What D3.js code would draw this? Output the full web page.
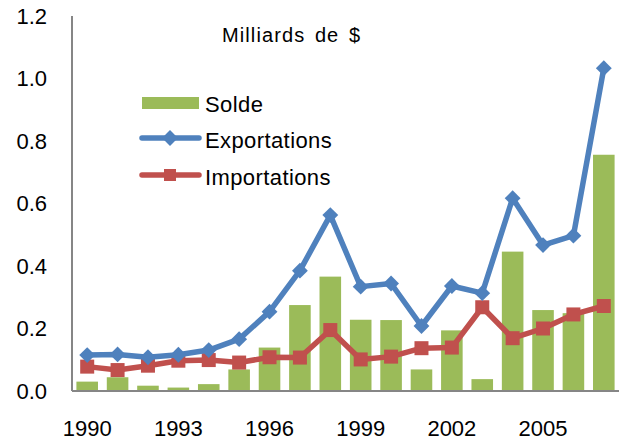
<!DOCTYPE html>
<meta charset="utf-8">
<style>
body { margin: 0; background: #fff; }
svg { font-family: "Liberation Sans", Arial, sans-serif; }
.axis path { stroke: #868686; stroke-width: 2px; }
.axis line { display: none; }
.axis text { font-size: 22px; fill: #000; }
</style>
<svg width="625" height="445"></svg>
<script src="https://d3js.org/d3.v7.min.js"></script>
<script>

var years = ["1990","1991","1992","1993","1994","1995","1996","1997","1998","1999",
             "2000","2001","2002","2003","2004","2005","2006","2007"];
var solde = [0.03, 0.044, 0.017, 0.011, 0.022, 0.069, 0.139, 0.275, 0.366, 0.228,
             0.227, 0.069, 0.194, 0.038, 0.446, 0.259, 0.249, 0.756];
var exportations = [0.115, 0.117, 0.108, 0.116, 0.131, 0.166, 0.254, 0.385, 0.563, 0.334,
                    0.344, 0.208, 0.336, 0.313, 0.617, 0.467, 0.497, 1.033];
var importations = [0.078, 0.067, 0.081, 0.097, 0.099, 0.091, 0.108, 0.107, 0.195, 0.101,
                    0.11, 0.137, 0.139, 0.268, 0.169, 0.2, 0.245, 0.272];
var yTicks = [0, 0.2, 0.4, 0.6, 0.8, 1.0, 1.2];
var xLabels = ["1990","1993","1996","1999","2002","2005"];

var svg = d3.select("svg"),
    margin = {top: 16, right: 6, bottom: 54, left: 72},
    width = +svg.attr("width") - margin.left - margin.right,
    height = +svg.attr("height") - margin.top - margin.bottom;

var x = d3.scaleBand().domain(years).range([0, width]).paddingInner(0.29).paddingOuter(0.145);
var y = d3.scaleLinear().domain([0, 1.2]).range([height, 0]);

var g = svg.append("g")
    .attr("transform", "translate(" + margin.left + "," + margin.top + ")");

// bars
g.append("g").selectAll("rect")
    .data(solde)
    .enter().append("rect")
    .attr("x", function(d, i) { return x(years[i]); })
    .attr("y", function(d) { return y(d); })
    .attr("width", x.bandwidth())
    .attr("height", function(d) { return y(0) - y(d); })
    .attr("fill", "#9bbb59");

// axes
g.append("g")
    .attr("class", "axis axis--y")
    .call(d3.axisLeft(y).tickValues(yTicks).tickSize(0).tickPadding(25)
        .tickFormat(d3.format(".1f")))
    .call(function(a) { a.select(".domain").attr("d", "M0," + y(1.2) + "V" + y(0)); });

g.append("g")
    .attr("class", "axis axis--x")
    .attr("transform", "translate(0," + height + ")")
    .call(d3.axisBottom(x).tickValues(xLabels).tickSize(0).tickPadding(29))
    .call(function(a) { a.select(".domain").attr("d", "M0,0H" + width); });

var cx = function(d, i) { return x(years[i]) + x.bandwidth() / 2; };

var line = d3.line()
    .x(cx)
    .y(function(d) { return y(d); });

// imports line
g.append("path")
    .datum(importations)
    .attr("fill", "none")
    .attr("stroke", "#c0504d")
    .attr("stroke-width", 5.5)
    .attr("stroke-linejoin", "round")
    .attr("d", line);

g.append("g").selectAll("rect")
    .data(importations)
    .enter().append("rect")
    .attr("x", function(d, i) { return cx(d, i) - 7; })
    .attr("y", function(d) { return y(d) - 7; })
    .attr("width", 14)
    .attr("height", 14)
    .attr("fill", "#c0504d");

// exports line
g.append("path")
    .datum(exportations)
    .attr("fill", "none")
    .attr("stroke", "#4f81bd")
    .attr("stroke-width", 5.5)
    .attr("stroke-linejoin", "round")
    .attr("d", line);

var diamond = d3.symbol().type(d3.symbolDiamond2).size(160);
g.append("g").selectAll("path")
    .data(exportations)
    .enter().append("path")
    .attr("transform", function(d, i) { return "translate(" + cx(d, i) + "," + y(d) + ")"; })
    .attr("d", diamond)
    .attr("fill", "#4f81bd");

// title
svg.append("text")
    .attr("x", 222)
    .attr("y", 42)
    .attr("font-size", 20)
    .attr("letter-spacing", 1.1)
    .attr("word-spacing", 3)
    .text("Milliards de $");

// legend
var lg = svg.append("g");
lg.append("rect")
    .attr("x", 142).attr("y", 97).attr("width", 57).attr("height", 12)
    .attr("fill", "#9bbb59");
lg.append("text").attr("x", 205).attr("y", 112).attr("font-size", 22).attr("letter-spacing", 0.4).text("Solde");

lg.append("line")
    .attr("x1", 142).attr("x2", 199).attr("y1", 138).attr("y2", 138)
    .attr("stroke", "#4f81bd").attr("stroke-width", 5.5).attr("stroke-linecap", "round");
lg.append("path")
    .attr("transform", "translate(170,138)")
    .attr("d", diamond)
    .attr("fill", "#4f81bd");
lg.append("text").attr("x", 205).attr("y", 148).attr("font-size", 22).attr("letter-spacing", 0.4).text("Exportations");

lg.append("line")
    .attr("x1", 142).attr("x2", 199).attr("y1", 175).attr("y2", 175)
    .attr("stroke", "#c0504d").attr("stroke-width", 5.5).attr("stroke-linecap", "round");
lg.append("rect")
    .attr("x", 164).attr("y", 169).attr("width", 12).attr("height", 12)
    .attr("fill", "#c0504d");
lg.append("text").attr("x", 205).attr("y", 185).attr("font-size", 22).attr("letter-spacing", 0.4).text("Importations");

</script>
